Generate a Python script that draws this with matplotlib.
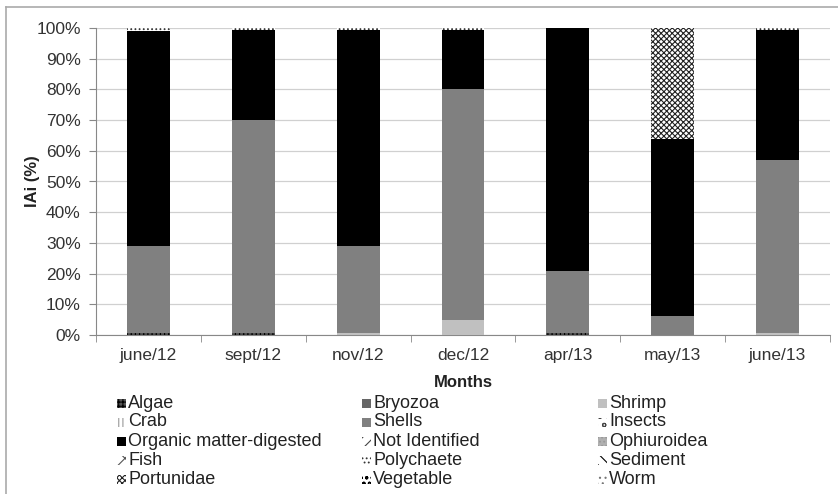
import matplotlib
matplotlib.use("Agg")
import matplotlib.pyplot as plt
from matplotlib.patches import Rectangle
from matplotlib.ticker import PercentFormatter, FixedLocator
import numpy as np

plt.rcParams["font.family"] = ["Liberation Sans", "DejaVu Sans"]
plt.rcParams["hatch.linewidth"] = 0.8

# meses e percentuais (IAi %) por categoria de alimento
meses = ["june/12", "sept/12", "nov/12", "dec/12", "apr/13", "may/13", "june/13"]
algae = [0.8, 0.5, 0.0, 0.0, 0.6, 0.0, 0.0]
bryozoa = [0, 0, 0, 0, 0, 0, 0]
shrimp = [0.0, 0.0, 0.8, 5.0, 0.0, 0.0, 0.5]
crab = [0, 0, 0, 0, 0, 0, 0]
shells = [28.2, 69.5, 28.2, 75.0, 20.4, 6.3, 56.5]
insects = [0, 0, 0, 0, 0, 0, 0]
organic = [70.1, 29.5, 70.5, 19.5, 79.0, 57.7, 42.3]
not_identified = [0, 0, 0, 0, 0, 0, 0]
ophiuroidea = [0, 0, 0, 0, 0, 0, 0]
fish = [0, 0, 0, 0, 0, 0, 0]
polychaete = [0.9, 0.5, 0.5, 0.5, 0.0, 0.0, 0.7]
sediment = [0, 0, 0, 0, 0, 0, 0]
portunidae = [0.0, 0.0, 0.0, 0.0, 0.0, 36.0, 0.0]
vegetable = [0, 0, 0, 0, 0, 0, 0]
worm = [0, 0, 0, 0, 0, 0, 0]

series = [
    ("Algae", algae), ("Bryozoa", bryozoa), ("Shrimp", shrimp),
    ("Crab", crab), ("Shells", shells), ("Insects", insects),
    ("Organic matter-digested", organic), ("Not Identified", not_identified),
    ("Ophiuroidea", ophiuroidea), ("Fish", fish), ("Polychaete", polychaete),
    ("Sediment", sediment), ("Portunidae", portunidae),
    ("Vegetable", vegetable), ("Worm", worm),
]

# estilo (cor de fundo, hachura, cor da hachura)
estilos = {
    "Algae": ("#555555", "++++", "#000000"),
    "Bryozoa": ("#666666", "", "#666666"),
    "Shrimp": ("#c0c0c0", "", "#c0c0c0"),
    "Crab": ("#ffffff", "||||", "#999999"),
    "Shells": ("#808080", "", "#808080"),
    "Insects": ("#ffffff", "oo", "#444444"),
    "Organic matter-digested": ("#000000", "", "#000000"),
    "Not Identified": ("#ffffff", "///", "#444444"),
    "Ophiuroidea": ("#b0b0b0", "....", "#999999"),
    "Fish": ("#ffffff", "xx", "#555555"),
    "Polychaete": ("#ffffff", "....", "#333333"),
    "Sediment": ("#ffffff", "\\\\\\", "#000000"),
    "Portunidae": ("#ffffff", "xxxxxx", "#222222"),
    "Vegetable": ("#ffffff", "ooo", "#000000"),
    "Worm": ("#ffffff", "...", "#777777"),
}

W, H = 838, 494
fig = plt.figure(figsize=(W / 100, H / 100), dpi=100)
ax = fig.add_axes([96 / W, 1 - 335 / H, (830 - 96) / W, (335 - 28) / H])

x = np.arange(len(meses))
base = np.zeros(len(meses))
for nome, valores in series:
    fc, hatch, hc = estilos[nome]
    vals = np.array(valores, dtype=float)
    ax.bar(x, vals, bottom=base, width=0.41, color=fc, hatch=hatch,
           edgecolor=hc, linewidth=0, zorder=3)
    base += vals

ax.set_xlim(-0.5, len(meses) - 0.5)
ax.set_ylim(0, 100)
ax.yaxis.set_major_locator(FixedLocator(np.arange(0, 101, 10)))
ax.yaxis.set_major_formatter(PercentFormatter(decimals=0))
ax.set_xticks(x)
ax.set_xticklabels(meses)
ax.set_xticks(np.arange(-0.5, len(meses), 1), minor=True)
ax.tick_params(axis="x", which="major", length=0, pad=9, labelsize=12.5,
               labelcolor="#333333")
ax.tick_params(axis="x", which="minor", length=5, color="#888888")
ax.tick_params(axis="y", length=5, color="#888888", labelsize=12.5,
               labelcolor="#333333", pad=6)
ax.grid(axis="y", color="#d0d0d0", linewidth=0.9, zorder=0)
for lado in ["top", "right"]:
    ax.spines[lado].set_visible(False)
for lado in ["left", "bottom"]:
    ax.spines[lado].set_color("#888888")
ax.set_ylabel("IAi (%)", fontweight="bold", fontsize=12, color="#222222")
ax.yaxis.set_label_coords((40 - 96) / (830 - 96), 0.5)
ax.set_xlabel("Months", fontweight="bold", fontsize=12, color="#222222")
ax.xaxis.set_label_coords(0.5, -(375 - 335) / (335 - 28))

# legenda manual: 3 colunas, preenchida por linha
col_x = [117, 362, 598]
lin_y = [403, 422, 441, 460, 479]
for i, (nome, _) in enumerate(series):
    fc, hatch, hc = estilos[nome]
    cx = col_x[i % 3]
    cy = lin_y[i // 3]
    fig.add_artist(Rectangle((cx / W, 1 - (cy + 4.5) / H), 9 / W, 9 / H,
                             facecolor=fc, hatch=hatch, edgecolor=hc,
                             linewidth=0, transform=fig.transFigure))
    fig.text((cx + 11) / W, 1 - cy / H, nome, fontsize=13, color="#222222",
             va="center", ha="left")

# moldura externa
fig.add_artist(plt.Line2D([6 / W, 6 / W], [0.0, 1 - 7 / H], color="#aaaaaa",
                          linewidth=1.2, transform=fig.transFigure))
fig.add_artist(plt.Line2D([6 / W, 1.0], [1 - 7 / H, 1 - 7 / H],
                          color="#aaaaaa", linewidth=1.2,
                          transform=fig.transFigure))

plt.savefig("out.png", dpi=100)
